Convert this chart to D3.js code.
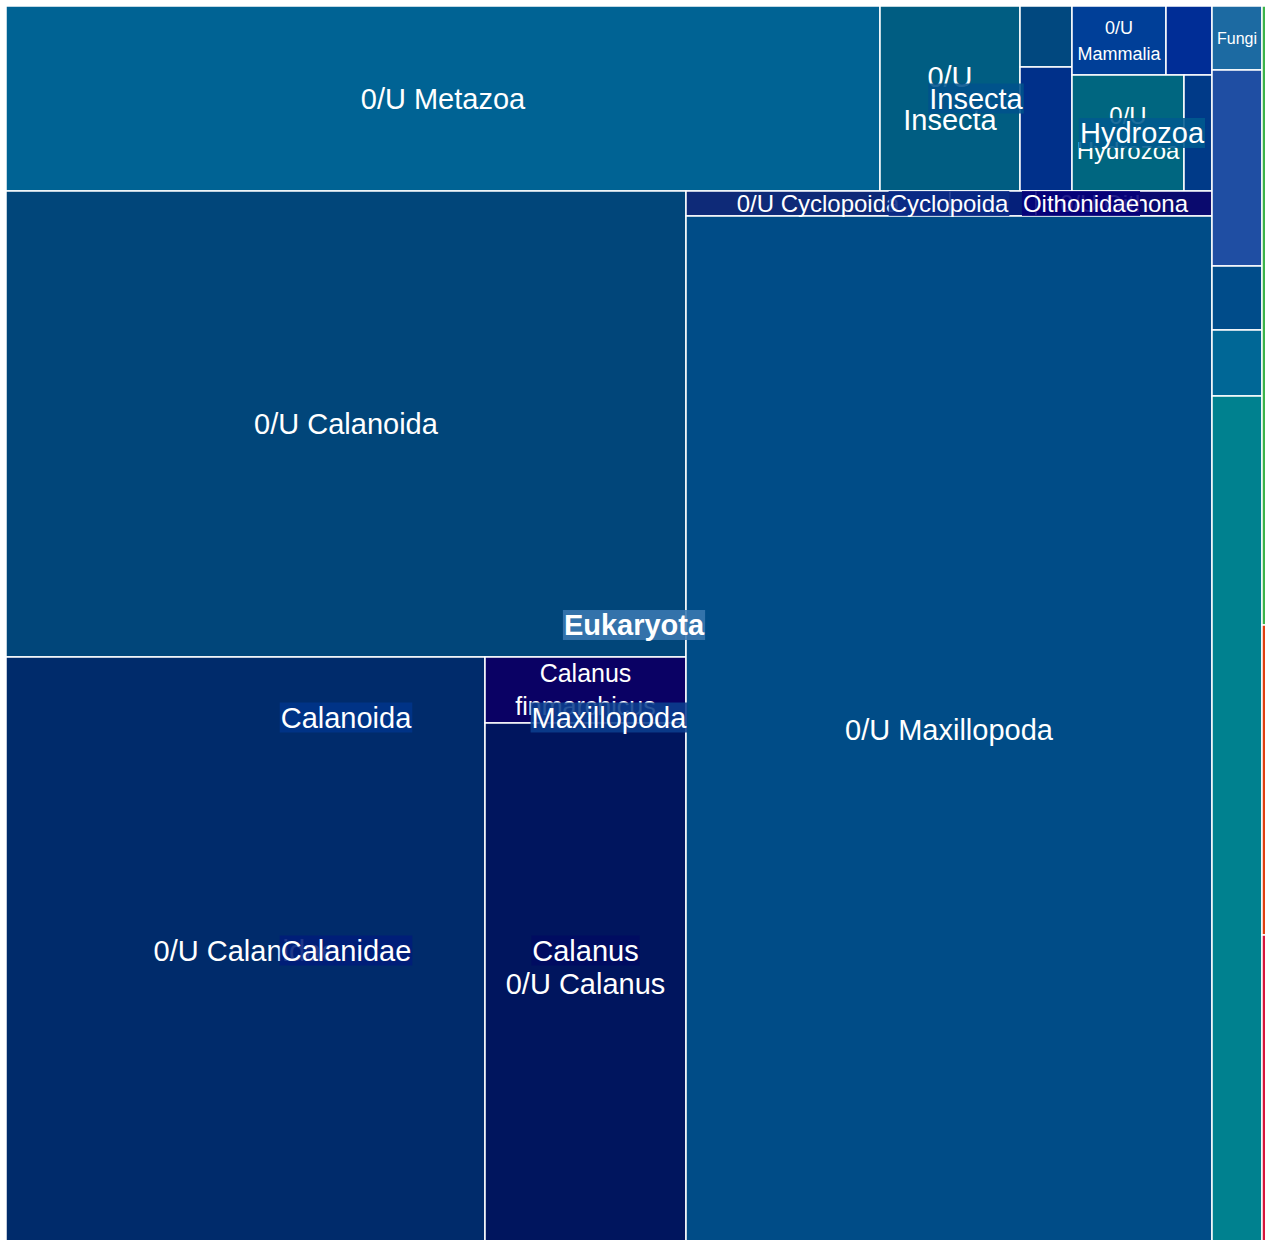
<!DOCTYPE html>
<html>
<head>
<meta charset="utf-8">
<script src="https://cdn.jsdelivr.net/npm/d3@7"></script>
<style>
  html, body { margin: 0; padding: 0; overflow: hidden; background: #fff; }
  svg { display: block; }
  text { font-family: "Liberation Sans", Arial, sans-serif; fill: #fff; }
</style>
</head>
<body>
<div id="treemap"></div>
<script>
// taxa, their parent and the reads assigned (internal nodes carry 0)
const taxa = [
  "root", "Eukaryota", "Bacteria", "Archaea", "Viruses",
  "Metazoa", "Fungi", "Viridiplantae", "Alveolata", "Rhizaria", "Stramenopiles",
  "0/U Metazoa", "Insecta", "Mammalia", "Hydrozoa", "Maxillopoda",
  "0/U Insecta", "Diptera", "Hymenoptera",
  "0/U Mammalia", "Artiodactyla",
  "0/U Hydrozoa", "Siphonophorae",
  "Calanoida", "Cyclopoida", "0/U Maxillopoda",
  "0/U Calanoida", "Calanidae",
  "0/U Calanidae", "Calanus",
  "Calanus finmarchicus", "0/U Calanus",
  "0/U Cyclopoida", "Oithonidae",
  "0/U Oithonidae", "Oithona",
  "0/U Oithona"
];
const parentOf = [
  "", "root", "root", "root", "root",
  "Eukaryota", "Eukaryota", "Eukaryota", "Eukaryota", "Eukaryota", "Eukaryota",
  "Metazoa", "Metazoa", "Metazoa", "Metazoa", "Metazoa",
  "Insecta", "Insecta", "Insecta",
  "Mammalia", "Mammalia",
  "Hydrozoa", "Hydrozoa",
  "Maxillopoda", "Maxillopoda", "Maxillopoda",
  "Calanoida", "Calanoida",
  "Calanidae", "Calanidae",
  "Calanus", "Calanus",
  "Cyclopoida", "Cyclopoida",
  "Oithonidae", "Oithonidae",
  "Oithona"
];
const reads = [
  0, 0, 23522, 11780, 11742,
  0, 3200, 9800, 3200, 3300, 42400,
  161690, 0, 0, 0, 0,
  25900, 3172, 6448,
  6486, 3174,
  12992, 3248,
  0, 0, 540728,
  316880, 0,
  281173, 0,
  13266, 104721,
  6600, 0,
  2150, 0,
  4400
];

// groups that get a boxed label on top of their tiles
const groupLabels = ["Eukaryota", "Maxillopoda", "Calanoida", "Calanidae", "Calanus",
  "Insecta", "Hydrozoa", "Cyclopoida", "Oithonidae"];

const colors = {
  "Bacteria": "#3cb44b", "Archaea": "#e0400f", "Viruses": "#d6163c",
  "Eukaryota": "#3a79b1",
  "Fungi": "#1c6aa2", "Viridiplantae": "#1f4ea3", "Alveolata": "#004c8a",
  "Rhizaria": "#006796", "Stramenopiles": "#00818f",
  "0/U Metazoa": "#006394",
  "Insecta": "#00528c", "0/U Insecta": "#005d82", "Diptera": "#01487f", "Hymenoptera": "#00308a",
  "Mammalia": "#003f98", "0/U Mammalia": "#003f98", "Artiodactyla": "#002d96",
  "Hydrozoa": "#005a8e", "0/U Hydrozoa": "#006680", "Siphonophorae": "#003a88",
  "Maxillopoda": "#0b3f8e", "0/U Maxillopoda": "#004c87",
  "Calanoida": "#00348a", "0/U Calanoida": "#01467a",
  "Calanidae": "#001d7a", "0/U Calanidae": "#002b6b",
  "Calanus": "#000b62", "Calanus finmarchicus": "#0a0164", "0/U Calanus": "#00155e",
  "Cyclopoida": "#0a2a86", "0/U Cyclopoida": "#0e2a78",
  "Oithonidae": "#06007a", "0/U Oithonidae": "#05207a", "0/U Oithona": "#0a0a6e"
};

const width = 1265, height = 1240;
const marginLeft = 6, marginTop = 6;

const rows = taxa.map((t, i) => ({name: t, parent: parentOf[i], value: reads[i]}));
const root = d3.stratify()
    .id(d => d.name)
    .parentId(d => d.parent || null)(rows)
    .sum(d => d.value);

d3.treemap()
    .tile(d3.treemapBinary)
    .size([1294, 1238])
    (root);

const svg = d3.select("#treemap").append("svg")
    .attr("width", width)
    .attr("height", height);

const g = svg.append("g").attr("transform", `translate(${marginLeft},${marginTop})`);

// text measuring helper
const probe = svg.append("text").attr("font-size", 100).attr("x", -1000).attr("y", -1000);
function measure(str, bold) {
  probe.attr("font-weight", bold ? "bold" : "normal").text(str);
  return probe.node().getComputedTextLength() / 100;
}

const leaves = root.leaves();

g.selectAll("rect.tile")
  .data(leaves)
  .join("rect")
    .attr("class", "tile")
    .attr("x", d => d.x0)
    .attr("y", d => d.y0)
    .attr("width", d => d.x1 - d.x0)
    .attr("height", d => d.y1 - d.y0)
    .attr("fill", d => colors[d.id] || "#1f5fa0")
    .attr("stroke", "#fff")
    .attr("stroke-width", 1.5);

// fit a leaf name into its tile, wrapping words
function fitLabel(name, w, h) {
  const words = name.split(" ");
  for (let fs = 29; fs >= 15; fs--) {
    const maxW = w - 8;
    if (words.some(wd => measure(wd) * fs > maxW)) continue;
    const lines = [];
    let cur = "";
    words.forEach(wd => {
      const t = cur ? cur + " " + wd : wd;
      if (measure(t) * fs <= maxW) cur = t;
      else { lines.push(cur); cur = wd; }
    });
    lines.push(cur);
    if (fs * (1.04 + 1.5 * (lines.length - 1)) <= h) return {fs, lines};
  }
  return null;
}

const leafText = g.append("g");
leaves.forEach(d => {
  const w = d.x1 - d.x0, h = d.y1 - d.y0;
  const fit = fitLabel(d.id, w, h);
  if (!fit) return;
  const cx = (d.x0 + d.x1) / 2, cy = (d.y0 + d.y1) / 2;
  const n = fit.lines.length;
  const lh = Math.min(1.47 * fit.fs, h / n);
  const t = leafText.append("text")
      .attr("text-anchor", "middle")
      .attr("font-size", fit.fs);
  fit.lines.forEach((ln, i) => {
    t.append("tspan")
      .attr("x", cx)
      .attr("y", cy + (i - (n - 1) / 2) * lh)
      .attr("dy", "0.35em")
      .text(ln);
  });
});

// group labels: deepest first so the broader ones sit on top
const groups = root.descendants()
  .filter(d => groupLabels.includes(d.id))
  .sort((a, b) => b.depth - a.depth);

const groupText = g.append("g");
groups.forEach(d => {
  const bold = d.id === "Eukaryota";
  const w = d.x1 - d.x0, h = d.y1 - d.y0;
  const fs = Math.floor(Math.min(29, (w - 4) / measure(d.id, bold), h - 1));
  if (fs < 15) return;
  const cx = (d.x0 + d.x1) / 2, cy = (d.y0 + d.y1) / 2;
  const len = measure(d.id, bold) * fs;
  groupText.append("rect")
    .attr("x", cx - len / 2 - 1)
    .attr("y", cy - fs / 2 - 0.5)
    .attr("width", len + 2)
    .attr("height", fs + 1)
    .attr("fill", colors[d.id])
    .attr("fill-opacity", 0.88);
  groupText.append("text")
    .attr("x", cx)
    .attr("y", cy)
    .attr("dy", "0.35em")
    .attr("text-anchor", "middle")
    .attr("font-size", fs)
    .attr("font-weight", bold ? "bold" : "normal")
    .text(d.id);
});

probe.remove();
</script>
</body>
</html>
